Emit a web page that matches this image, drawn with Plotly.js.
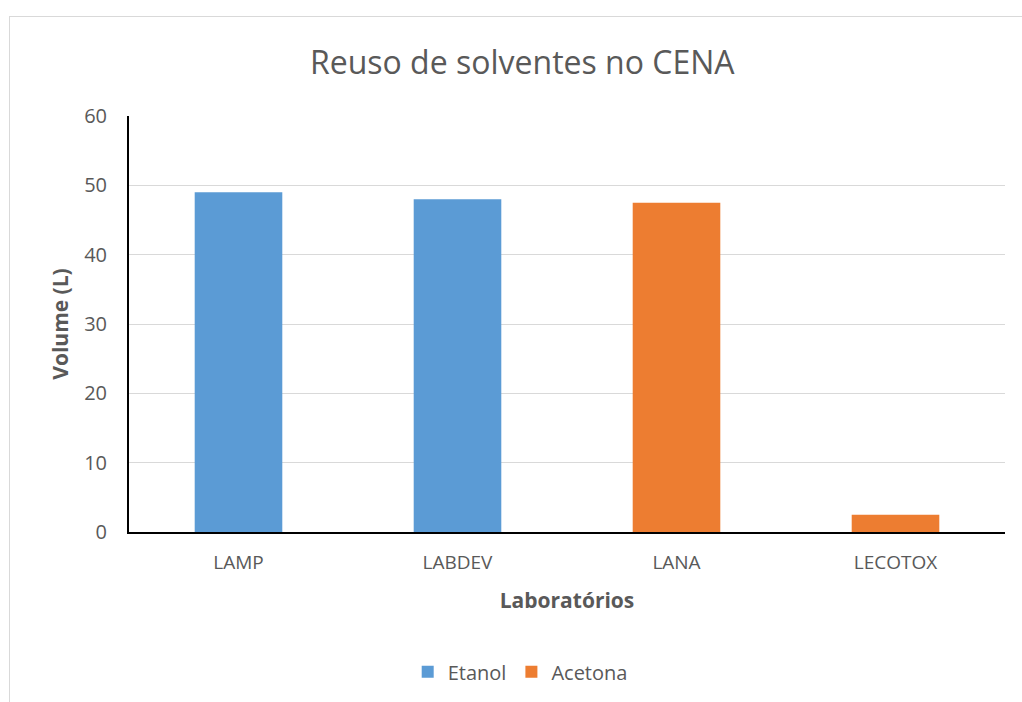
<!DOCTYPE html>
<html>
<head>
<meta charset="utf-8">
<script src="https://cdn.plot.ly/plotly-3.0.1.min.js"></script>
<style>
html,body{margin:0;padding:0;background:#fff;overflow:hidden;}
#frame{position:absolute;left:9px;top:16px;width:1030px;height:700px;border:1px solid #d9d9d9;box-sizing:border-box;}
#chart{position:absolute;left:0;top:0;width:1022px;height:702px;}
</style>
</head>
<body>
<div id="frame"></div>
<div id="chart"></div>
<script>
const categories = ["LAMP", "LABDEV", "LANA", "LECOTOX"];
const etanol = [49, 48, null, null];
const acetona = [null, null, 47.5, 2.5];
const seriesNames = ["Etanol", "Acetona"];
const colors = ["#5b9bd5", "#ed7d31"];

const FONT = "'Open Sans', 'Noto Sans', sans-serif";
const GREY = "#595959";

const traces = [
  {type: "bar", name: seriesNames[0], x: categories, y: etanol, marker: {color: colors[0]}, width: 0.4},
  {type: "bar", name: seriesNames[1], x: categories, y: acetona, marker: {color: colors[1]}, width: 0.4}
];

const layout = {
  width: 1022, height: 702,
  paper_bgcolor: "rgba(0,0,0,0)", plot_bgcolor: "rgba(0,0,0,0)",
  margin: {l: 129, r: 17, t: 116, b: 170},
  barmode: "overlay",
  font: {family: FONT, color: GREY, size: 20},
  title: {text: "Reuso de solventes no CENA", font: {family: FONT, size: 32, color: GREY},
          x: 0.511, xref: "container", xanchor: "center", y: 0.91, yref: "container", yanchor: "middle"},
  xaxis: {
    type: "category",
    showline: true, linecolor: "#000", linewidth: 2,
    showgrid: false, ticks: "", zeroline: false,
    tickfont: {family: FONT, size: 19, color: GREY},
    ticklabelstandoff: 12,
    title: {text: "<b>Laboratórios</b>", font: {family: FONT, size: 21, color: GREY}, standoff: 20}
  },
  yaxis: {
    range: [0, 60], dtick: 10, tick0: 0,
    showline: true, linecolor: "#000", linewidth: 2,
    showgrid: true, gridcolor: "#d9d9d9", gridwidth: 1,
    zeroline: false, ticks: "",
    tickfont: {family: FONT, size: 20, color: GREY},
    ticklabelstandoff: 16,
    title: {text: "<b>Volume (L)</b>", font: {family: FONT, size: 21, color: GREY}, standoff: 10}
  },
  showlegend: true,
  legend: {orientation: "h", x: 0.509, xanchor: "center", xref: "container",
           y: 0.043, yref: "container", yanchor: "middle",
           font: {family: FONT, size: 20, color: GREY}, traceorder: "normal"}
};

Plotly.newPlot("chart", traces, layout, {displayModeBar: false, staticPlot: true});
</script>
</body>
</html>
